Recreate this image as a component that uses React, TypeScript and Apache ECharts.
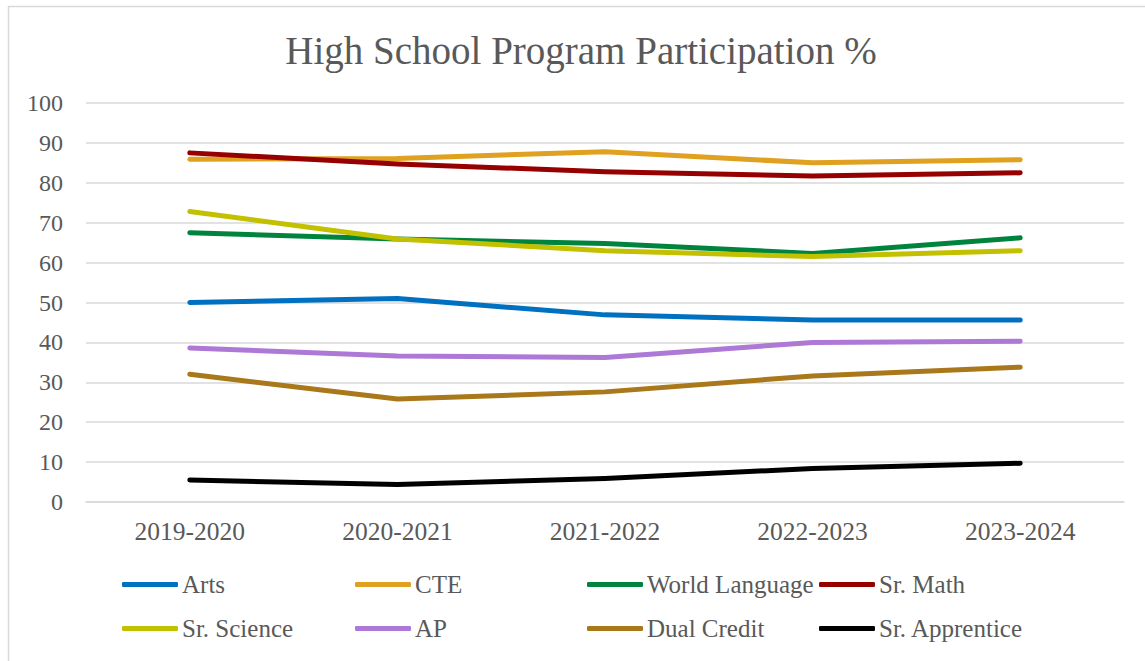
import React, { useEffect, useRef } from "react";
import * as echarts from "echarts";

const categories = ["2019-2020", "2020-2021", "2021-2022", "2022-2023", "2023-2024"];
const seriesNames = ["Arts", "CTE", "World Language", "Sr. Math", "Sr. Science", "AP", "Dual Credit", "Sr. Apprentice"];
const arts = [50.0, 51.0, 46.9, 45.6, 45.6];
const cte = [85.9, 86.1, 87.8, 85.0, 85.8];
const worldLanguage = [67.5, 65.9, 64.8, 62.3, 66.2];
const srMath = [87.5, 84.7, 82.8, 81.7, 82.5];
const srScience = [72.8, 65.9, 63.0, 61.5, 63.0];
const ap = [38.6, 36.6, 36.2, 40.0, 40.3];
const dualCredit = [32.0, 25.8, 27.6, 31.6, 33.8];
const srApprentice = [5.5, 4.4, 5.9, 8.4, 9.7];
const yTicks = { min: 0, max: 100, interval: 10 };

const seriesValues = [arts, cte, worldLanguage, srMath, srScience, ap, dualCredit, srApprentice];
const colors = ["#0070C0", "#E0A020", "#00843D", "#960000", "#C3C000", "#AE78D6", "#A8781A", "#000000"];

const FONT = "'Liberation Serif', 'Times New Roman', serif";
const TEXT = "#595959";

export default function App() {
  const ref = useRef<HTMLDivElement>(null);
  useEffect(() => {
    if (!ref.current) return;
    const chart = echarts.init(ref.current, undefined, { renderer: "svg" });
    const legendCols = [122, 355, 587, 819];
    const legendRows = [572, 616];
    const legends = seriesNames.map((name, i) => ({
      data: [name],
      left: legendCols[i % 4],
      top: legendRows[Math.floor(i / 4)],
      padding: 0,
      icon: "roundRect",
      itemWidth: 56,
      itemHeight: 5,
      itemGap: 4,
      textStyle: { fontFamily: FONT, fontSize: 25, color: TEXT, lineHeight: 25, padding: [0, 0, 0, -1] },
    }));
    chart.setOption({
      animation: false,
      backgroundColor: "#ffffff",
      color: colors,
      title: {
        text: "High School Program Participation %",
        left: 576,
        top: 26,
        textAlign: "center",
        textStyle: { fontFamily: FONT, fontSize: 39, fontWeight: "normal", color: TEXT },
      },
      graphic: [
        {
          type: "rect",
          shape: { x: 8.5, y: 6.5, width: 1160, height: 680 },
          style: { fill: "none", stroke: "#D9D9D9", lineWidth: 1.5 },
          silent: true,
        },
      ],
      legend: legends,
      grid: { left: 86, right: 21, top: 103, bottom: 159, containLabel: false },
      xAxis: {
        type: "category",
        data: categories,
        boundaryGap: true,
        axisLine: { show: true, lineStyle: { color: "#D9D9D9", width: 1.5 } },
        axisTick: { show: false },
        axisLabel: { fontFamily: FONT, fontSize: 25.5, color: TEXT, margin: 16 },
        splitLine: { show: false },
      },
      yAxis: {
        type: "value",
        min: yTicks.min,
        max: yTicks.max,
        interval: yTicks.interval,
        axisLine: { show: false },
        axisTick: { show: false },
        axisLabel: { fontFamily: FONT, fontSize: 24, color: TEXT, margin: 23 },
        splitLine: { show: true, lineStyle: { color: "#D9D9D9", width: 1.5 } },
      },
      series: seriesNames.map((name, i) => ({
        name,
        type: "line",
        data: seriesValues[i],
        showSymbol: false,
        symbol: "none",
        lineStyle: { width: 5, color: colors[i], cap: "round", join: "round" },
        itemStyle: { color: colors[i] },
      })),
    });
    return () => chart.dispose();
  }, []);
  return (
    <div
      ref={ref}
      style={{ position: "absolute", left: 0, top: 0, width: 1145, height: 661 }}
    />
  );
}
